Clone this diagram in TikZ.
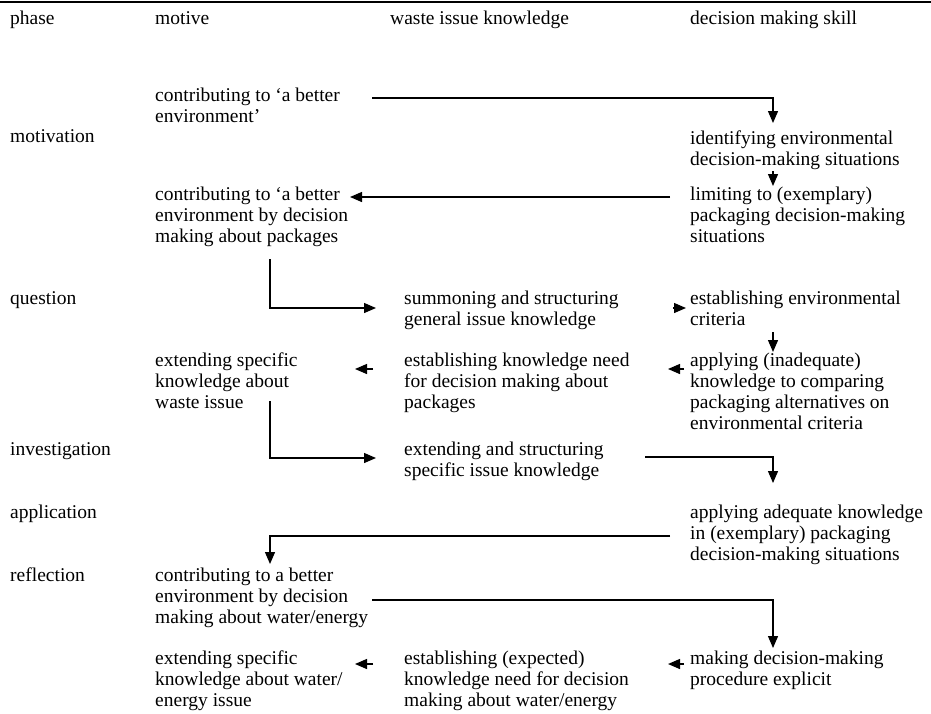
\documentclass[tikz,border=0pt]{standalone}
\usepackage{fontspec}
\setmainfont{Liberation Serif}
\usetikzlibrary{arrows.meta}
\begin{document}
\begin{tikzpicture}[x=1pt,y=1pt,
  txt/.style={font=\fontsize{19.5}{21}\selectfont, inner sep=0pt, anchor=north west, align=left},
  arr/.style={line width=1.3pt, -{Triangle[length=12pt,width=10pt]}},
  rule/.style={line width=2.2pt}]
\useasboundingbox (0,0) rectangle (931,-713);
\draw[rule] (0,-2) coordinate (r0) -- (931,-2) coordinate (r1);
% header
\node[txt] (h0) at (10,-11) {phase};
\node[txt] (h1) at (155,-11) {motive};
\node[txt] (h2) at (390,-11) {waste issue knowledge};
\node[txt] (h3) at (690,-11) {decision making skill};
% phases
\node[txt] (p1) at (10,-129) {motivation};
\node[txt] (p2) at (10,-291) {question};
\node[txt] (p3) at (10,-442) {investigation};
\node[txt] (p4) at (10,-505) {application};
\node[txt] (p5) at (10,-568) {reflection};
% motive column
\node[txt] (m1) at (155,-88) {contributing to ‘a better\\environment’};
\node[txt] (m2) at (155,-187) {contributing to ‘a better\\environment by decision\\making about packages};
\node[txt] (m3) at (155,-353) {extending specific\\knowledge about\\waste issue};
\node[txt] (m4) at (155,-568) {contributing to a better\\environment by decision\\making about water/energy};
\node[txt] (m5) at (155,-651) {extending specific\\knowledge about water/\\energy issue};
% waste column
\node[txt] (w1) at (404,-291) {summoning and structuring\\general issue knowledge};
\node[txt] (w2) at (404,-353) {establishing knowledge need\\for decision making about\\packages};
\node[txt] (w3) at (404,-442) {extending and structuring\\specific issue knowledge};
\node[txt] (w4) at (404,-651) {establishing (expected)\\knowledge need for decision\\making about water/energy};
% decision column
\node[txt] (d1) at (690,-131) {identifying environmental\\decision-making situations};
\node[txt] (d2) at (690,-187) {limiting to (exemplary)\\packaging decision-making\\situations};
\node[txt] (d3) at (690,-291) {establishing environmental\\criteria};
\node[txt] (d4) at (690,-353) {applying (inadequate)\\knowledge to comparing\\packaging alternatives on\\environmental criteria};
\node[txt] (d5) at (690,-505) {applying adequate knowledge\\in (exemplary) packaging\\decision-making situations};
\node[txt] (d6) at (690,-651) {making decision-making\\procedure explicit};
% connectors
\draw[arr, shorten >=8pt] ([shift={(217,-10)}]m1.north west) -| ([xshift=83]d1.north west);
\draw[arr, shorten <=1pt, shorten >=1pt] ([xshift=83]d1.south west) -- ([xshift=83]d2.north west);
\draw[arr] ([shift={(-20,-10)}]d2.north west) -- ([shift={(195,-10)}]m2.north west);
\draw[arr] ([shift={(115,-12)}]m2.south west) |- ([shift={(-28,-17)}]w1.north west);
\draw[arr] ([shift={(269,-17)}]w1.north west) -- ([shift={(-4,-17)}]d3.north west);
\draw[arr, shorten <=6pt, shorten >=1pt] ([xshift=83]d3.south west) -- ([xshift=83]d4.north west);
\draw[arr] ([shift={(-6,-16)}]d4.north west) -- ([shift={(264,-16)}]w2.north west);
\draw[arr] ([shift={(-31,-16)}]w2.north west) -- ([shift={(200,-16)}]m3.north west);
\draw[arr] ([shift={(115,8)}]m3.south west) |- ([shift={(-28,-16)}]w3.north west);
\draw[arr, shorten >=22pt] ([shift={(241,-15)}]w3.north west) -| ([xshift=83]d5.north west);
\draw[arr, shorten >=4pt] ([shift={(-20,-31)}]d5.north west) -| ([xshift=115]m4.north west);
\draw[arr, shorten >=3pt] ([shift={(217,-32)}]m4.north west) -| ([xshift=83]d6.north west);
\draw[arr] ([shift={(-6,-13)}]d6.north west) -- ([shift={(264,-13)}]w4.north west);
\draw[arr] ([shift={(-31,-13)}]w4.north west) -- ([shift={(200,-13)}]m5.north west);
\end{tikzpicture}
\end{document}
